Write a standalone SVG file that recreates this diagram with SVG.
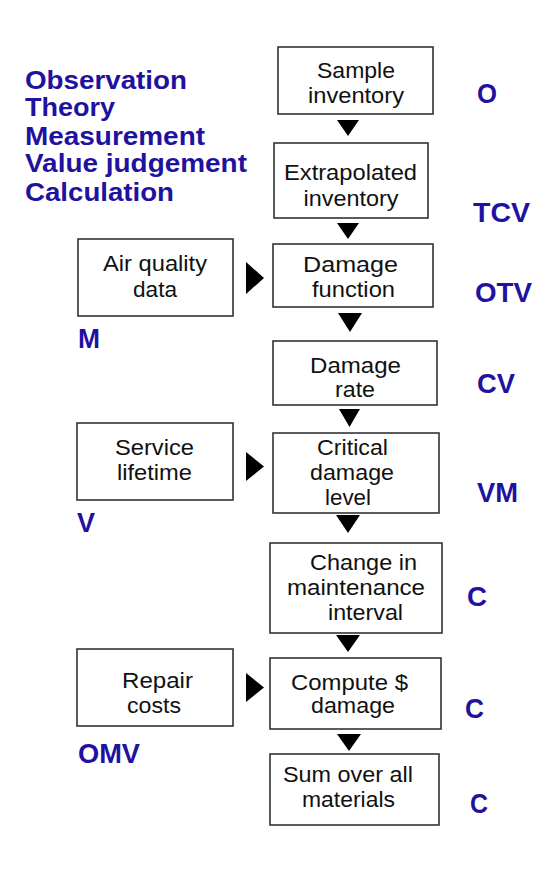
<svg xmlns="http://www.w3.org/2000/svg" width="550" height="870" viewBox="0 0 550 870">
<style>
.box{fill:#fff;stroke:#333;stroke-width:1.6}
.t{font-family:"Liberation Sans",Arial,sans-serif;font-size:22px;fill:#111;text-anchor:middle}
.b{font-family:"Liberation Sans",Arial,sans-serif;font-weight:bold;font-size:27px;fill:#1f129f}
.lg{font-family:"Liberation Sans",Arial,sans-serif;font-weight:bold;font-size:25px;fill:#1f129f}
.ar{fill:#000}
</style>
<rect width="550" height="870" fill="#fff"/>
<g id="legend">
<text class="lg" x="25" y="89" textLength="162" lengthAdjust="spacingAndGlyphs">Observation</text>
<text class="lg" x="25" y="116" textLength="90" lengthAdjust="spacingAndGlyphs">Theory</text>
<text class="lg" x="25" y="145" textLength="180" lengthAdjust="spacingAndGlyphs">Measurement</text>
<text class="lg" x="25" y="172" textLength="222" lengthAdjust="spacingAndGlyphs">Value judgement</text>
<text class="lg" x="25" y="201" textLength="149" lengthAdjust="spacingAndGlyphs">Calculation</text>
</g>
<g id="connectors">
<polygon class="ar" points="337,120 359,120 348,136"/>
<polygon class="ar" points="337,223 359,223 348,239"/>
<polygon class="ar" points="338,313 362,313 350,332"/>
<polygon class="ar" points="339,409 360,409 349.5,427"/>
<polygon class="ar" points="336,515 360,515 348,533"/>
<polygon class="ar" points="336,635 360,635 348,652"/>
<polygon class="ar" points="337,734 361,734 349,751"/>
<polygon class="ar" points="246,262 246,294 264,278"/>
<polygon class="ar" points="246,452 246,481 264,466.5"/>
<polygon class="ar" points="246,673 246,702 264,687.5"/>
</g>
<g id="sample-inventory">
<rect class="box" x="278" y="47" width="155" height="67"/>
<text class="t" x="356" y="78" textLength="78" lengthAdjust="spacingAndGlyphs">Sample</text>
<text class="t" x="356" y="103" textLength="96" lengthAdjust="spacingAndGlyphs">inventory</text>
</g>
<g id="extrapolated-inventory">
<rect class="box" x="274" y="143" width="154" height="75"/>
<text class="t" x="350.5" y="180" textLength="133" lengthAdjust="spacingAndGlyphs">Extrapolated</text>
<text class="t" x="351" y="206" textLength="95" lengthAdjust="spacingAndGlyphs">inventory</text>
</g>
<g id="damage-function">
<rect class="box" x="273" y="244" width="160" height="63"/>
<text class="t" x="350.5" y="272" textLength="95" lengthAdjust="spacingAndGlyphs">Damage</text>
<text class="t" x="353.5" y="297" textLength="83" lengthAdjust="spacingAndGlyphs">function</text>
</g>
<g id="air-quality-data">
<rect class="box" x="78" y="239" width="155" height="77"/>
<text class="t" x="155" y="271" textLength="104" lengthAdjust="spacingAndGlyphs">Air quality</text>
<text class="t" x="155" y="297" textLength="44" lengthAdjust="spacingAndGlyphs">data</text>
</g>
<g id="damage-rate">
<rect class="box" x="273" y="341" width="164" height="64"/>
<text class="t" x="355.5" y="373" textLength="91" lengthAdjust="spacingAndGlyphs">Damage</text>
<text class="t" x="355" y="397" textLength="40" lengthAdjust="spacingAndGlyphs">rate</text>
</g>
<g id="critical-damage-level">
<rect class="box" x="273" y="433" width="166" height="80"/>
<text class="t" x="352.5" y="455" textLength="71" lengthAdjust="spacingAndGlyphs">Critical</text>
<text class="t" x="352" y="480" textLength="84" lengthAdjust="spacingAndGlyphs">damage</text>
<text class="t" x="348" y="505" textLength="46" lengthAdjust="spacingAndGlyphs">level</text>
</g>
<g id="service-lifetime">
<rect class="box" x="77" y="423" width="156" height="77"/>
<text class="t" x="154.5" y="455" textLength="79" lengthAdjust="spacingAndGlyphs">Service</text>
<text class="t" x="154.5" y="480" textLength="75" lengthAdjust="spacingAndGlyphs">lifetime</text>
</g>
<g id="change-maintenance">
<rect class="box" x="270" y="543" width="172" height="90"/>
<text class="t" x="363.5" y="570" textLength="107" lengthAdjust="spacingAndGlyphs">Change in</text>
<text class="t" x="356" y="595" textLength="138" lengthAdjust="spacingAndGlyphs">maintenance</text>
<text class="t" x="365.5" y="620" textLength="75" lengthAdjust="spacingAndGlyphs">interval</text>
</g>
<g id="compute-damage">
<rect class="box" x="270" y="658" width="171" height="71"/>
<text class="t" x="349.5" y="690" textLength="117" lengthAdjust="spacingAndGlyphs">Compute $</text>
<text class="t" x="353" y="713" textLength="84" lengthAdjust="spacingAndGlyphs">damage</text>
</g>
<g id="repair-costs">
<rect class="box" x="77" y="649" width="156" height="77"/>
<text class="t" x="157.5" y="688" textLength="71" lengthAdjust="spacingAndGlyphs">Repair</text>
<text class="t" x="154" y="713" textLength="54" lengthAdjust="spacingAndGlyphs">costs</text>
</g>
<g id="sum-materials">
<rect class="box" x="270" y="754" width="169" height="71"/>
<text class="t" x="348" y="782" textLength="130" lengthAdjust="spacingAndGlyphs">Sum over all</text>
<text class="t" x="348.5" y="807" textLength="93" lengthAdjust="spacingAndGlyphs">materials</text>
</g>
<g id="codes">
<text class="b" x="477" y="103" textLength="20" lengthAdjust="spacingAndGlyphs">O</text>
<text class="b" x="473" y="222" textLength="57" lengthAdjust="spacingAndGlyphs">TCV</text>
<text class="b" x="475" y="302" textLength="57" lengthAdjust="spacingAndGlyphs">OTV</text>
<text class="b" x="477" y="393" textLength="38" lengthAdjust="spacingAndGlyphs">CV</text>
<text class="b" x="477" y="502" textLength="41" lengthAdjust="spacingAndGlyphs">VM</text>
<text class="b" x="467" y="606" textLength="20" lengthAdjust="spacingAndGlyphs">C</text>
<text class="b" x="465" y="718" textLength="19" lengthAdjust="spacingAndGlyphs">C</text>
<text class="b" x="470" y="813" textLength="18" lengthAdjust="spacingAndGlyphs">C</text>
<text class="b" x="78" y="348" textLength="22" lengthAdjust="spacingAndGlyphs">M</text>
<text class="b" x="77" y="532" textLength="18" lengthAdjust="spacingAndGlyphs">V</text>
<text class="b" x="78" y="763" textLength="62" lengthAdjust="spacingAndGlyphs">OMV</text>
</g>
</svg>
